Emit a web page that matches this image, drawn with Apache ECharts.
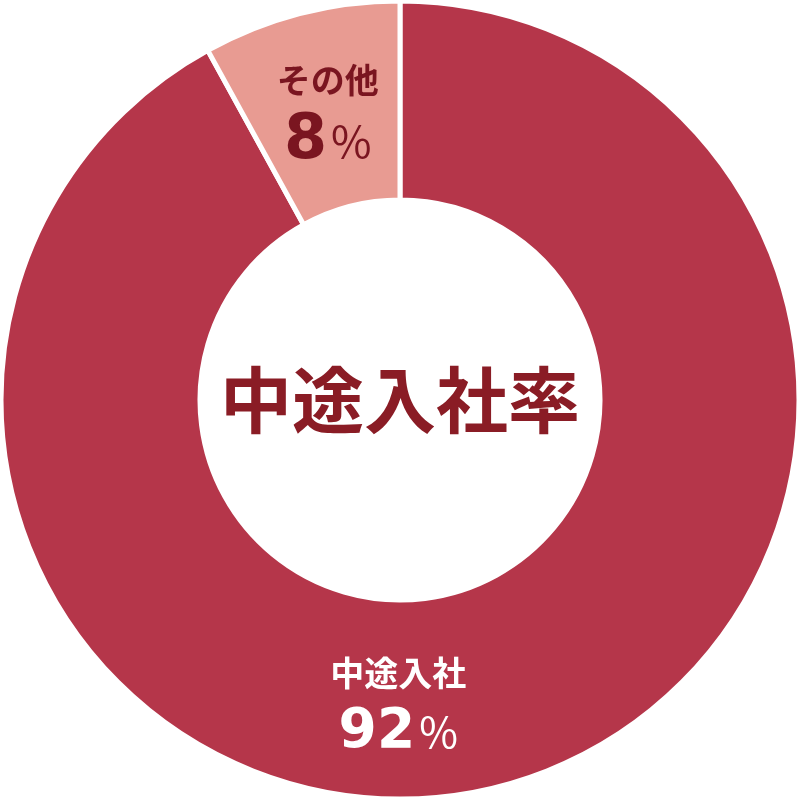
<!DOCTYPE html>
<html><head><meta charset="utf-8">
<script src="https://cdn.jsdelivr.net/npm/echarts@6/dist/echarts.min.js"></script>
<style>html,body{margin:0;padding:0;background:#fff}#c{width:800px;height:800px}</style>
</head><body><div id="c"></div>
<script>
const categories = ['中途入社', 'その他'];
const values = [92, 8];
const centerTitle = '中途入社率';

const colors = ['#B5364A', '#E89B92'];
const labelColors = ['#FFFFFF', '#7A1520'];
const labelOffsets = [[-77, 10], [3, 4]];
const digitSizes = [55, 62];
const pctSizes = [42, 44];
const lineHeights = [59, 61];

const chart = echarts.init(document.getElementById('c'), null, {renderer: 'canvas'});
chart.setOption({
  animation: false,
  title: {
    text: centerTitle, left: 'center', top: 'middle',
    textStyle: {fontFamily: 'Noto Sans CJK JP', fontWeight: 'bold', fontSize: 72, color: '#8A1C25'}
  },
  series: [{
    type: 'pie',
    center: ['50%', '50%'],
    radius: [200, 399],
    startAngle: 90,
    clockwise: true,
    avoidLabelOverlap: false,
    itemStyle: {borderColor: '#fff', borderWidth: 5},
    labelLine: {show: false},
    data: categories.map((n, i) => ({
      name: n, value: values[i],
      itemStyle: {color: colors[i]},
      label: {
        show: true, position: 'inside', offset: labelOffsets[i],
        formatter: p => '{n|' + p.name + '}\n{v|' + p.value + '}{p|%}',
        rich: {
          n: {fontFamily: 'Noto Sans CJK JP', fontWeight: 'bold', fontSize: 34, color: labelColors[i], lineHeight: lineHeights[i], align: 'center'},
          v: {fontFamily: 'DejaVu Sans', fontWeight: 'bold', fontSize: digitSizes[i], color: labelColors[i], lineHeight: lineHeights[i], padding: [0, 4, 0, 0]},
          p: {fontFamily: 'Noto Sans CJK JP', fontWeight: 'normal', fontSize: pctSizes[i], color: labelColors[i], lineHeight: lineHeights[i]}
        }
      }
    }))
  }]
});
</script></body></html>
